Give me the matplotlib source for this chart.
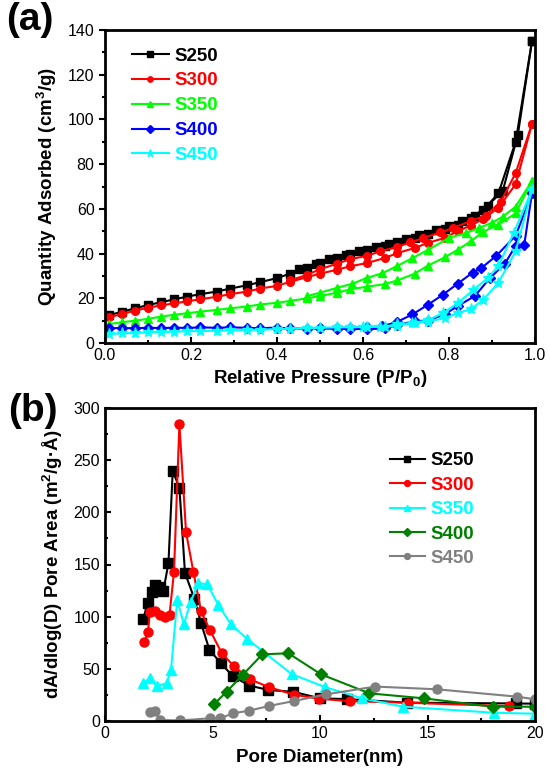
import matplotlib
matplotlib.use("Agg")
import matplotlib.pyplot as plt
from matplotlib.ticker import MultipleLocator

plt.rcParams["font.family"] = ["Liberation Sans", "DejaVu Sans"]
plt.rcParams["mathtext.fontset"] = "custom"
plt.rcParams["mathtext.rm"] = "Liberation Sans"
plt.rcParams["mathtext.bf"] = "Liberation Sans:bold"
plt.rcParams["mathtext.default"] = "bf"

# ---------------------------------------------------------------- (a) isotherms
samples = ["S250", "S300", "S350", "S400", "S450"]

s250_ads_p = [0.01, 0.04, 0.07, 0.10, 0.13, 0.16, 0.19, 0.22, 0.26, 0.29, 0.33, 0.36, 0.40, 0.43, 0.47,
              0.50, 0.54, 0.57, 0.61, 0.65, 0.68, 0.72, 0.75, 0.79, 0.82, 0.85, 0.88, 0.915, 0.955, 0.993]
s250_ads_q = [12.5, 14.0, 15.5, 17.0, 18.2, 19.5, 20.7, 21.8, 23.0, 24.3, 25.8, 27.2, 29.0, 31.0, 33.5,
              35.8, 38.0, 39.8, 41.5, 43.3, 45.0, 46.8, 48.8, 51.0, 53.0, 56.0, 59.5, 67.0, 90.0, 135.0]
s250_des_p = [0.993, 0.96, 0.925, 0.89, 0.86, 0.83, 0.80, 0.77, 0.73, 0.70, 0.66, 0.63, 0.59, 0.56, 0.52, 0.49, 0.45]
s250_des_q = [135.0, 93.0, 68.0, 61.5, 57.0, 54.5, 52.5, 50.5, 48.5, 46.5, 44.5, 42.8, 41.0, 39.5, 37.5, 35.5, 33.0]

s300_ads_p = s250_ads_p
s300_ads_q = [11.5, 13.0, 14.5, 15.8, 16.8, 17.7, 18.6, 19.5, 20.7, 21.8, 23.0, 24.3, 25.6, 27.3, 29.5,
              31.0, 32.8, 34.3, 35.8, 38.0, 40.2, 42.5, 44.7, 47.0, 50.0, 52.5, 55.5, 60.5, 71.0, 98.0]
s300_des_p = [0.993, 0.955, 0.92, 0.885, 0.85, 0.81, 0.78, 0.74, 0.71, 0.68, 0.64, 0.61, 0.57, 0.54, 0.50, 0.47, 0.43]
s300_des_q = [98.0, 76.0, 63.0, 57.0, 54.5, 51.5, 49.5, 47.0, 45.0, 43.0, 41.0, 39.0, 37.5, 35.5, 33.0, 30.5, 28.0]

s350_ads_p = s250_ads_p
s350_ads_q = [8.5, 9.3, 10.0, 10.8, 11.8, 12.6, 13.3, 14.0, 14.8, 15.5, 16.3, 17.2, 18.0, 18.8, 20.0,
              21.0, 22.5, 24.0, 25.2, 26.3, 28.0, 31.0, 34.5, 38.3, 41.7, 45.4, 49.8, 53.0, 58.0, 72.5]
s350_des_p = [0.993, 0.955, 0.925, 0.90, 0.87, 0.84, 0.80, 0.75, 0.715, 0.68, 0.645, 0.61, 0.575, 0.54, 0.50, 0.47]
s350_des_q = [72.5, 61.0, 56.5, 53.8, 51.5, 49.2, 47.0, 41.5, 38.0, 34.5, 31.2, 29.2, 26.5, 24.7, 22.5, 21.0]

s400_ads_p = [0.01, 0.04, 0.07, 0.10, 0.13, 0.16, 0.19, 0.22, 0.26, 0.29, 0.33, 0.36, 0.40, 0.43, 0.47,
              0.50, 0.54, 0.57, 0.61, 0.65, 0.68, 0.72, 0.75, 0.79, 0.82, 0.86, 0.895, 0.93, 0.955, 0.975, 0.993]
s400_ads_q = [6.5, 6.8, 6.5, 6.9, 6.6, 6.9, 6.7, 7.0, 6.8, 7.0, 6.8, 6.6, 6.9, 6.5, 6.4,
              6.6, 6.3, 6.3, 6.2, 6.5, 8.0, 9.8, 10.0, 12.8, 16.5, 21.0, 29.0, 35.5, 43.5, 44.0, 67.0]
s400_des_p = [0.993, 0.955, 0.91, 0.875, 0.855, 0.82, 0.785, 0.75, 0.715, 0.68, 0.645, 0.61, 0.57, 0.54, 0.50]
s400_des_q = [67.0, 48.0, 39.0, 33.5, 31.5, 26.5, 21.5, 17.0, 12.8, 9.5, 7.5, 7.0, 6.8, 6.8, 6.6]

s450_ads_p = s250_ads_p
s450_ads_q = [4.0, 4.3, 4.5, 4.8, 5.0, 5.0, 5.3, 5.3, 5.5, 5.6, 5.8, 6.0, 6.2, 6.4, 6.6,
              6.8, 7.0, 7.0, 7.2, 7.3, 8.3, 9.0, 9.6, 11.1, 13.4, 15.0, 19.4, 27.0, 41.0, 68.5]
s450_des_p = [0.993, 0.95, 0.915, 0.89, 0.855, 0.82, 0.785, 0.75, 0.715, 0.68, 0.64, 0.60]
s450_des_q = [68.5, 49.0, 34.5, 29.0, 23.5, 17.8, 13.2, 10.2, 8.8, 7.8, 7.3, 7.2]

iso_ads = [(s250_ads_p, s250_ads_q), (s300_ads_p, s300_ads_q), (s350_ads_p, s350_ads_q),
           (s400_ads_p, s400_ads_q), (s450_ads_p, s450_ads_q)]
iso_des = [(s250_des_p, s250_des_q), (s300_des_p, s300_des_q), (s350_des_p, s350_des_q),
           (s400_des_p, s400_des_q), (s450_des_p, s450_des_q)]

# ---------------------------------------------------------------- (b) pore size distribution
s250_d = [1.78, 1.98, 2.17, 2.33, 2.56, 2.71, 2.95, 3.15, 3.46, 3.72, 4.16, 4.47, 4.86, 5.4, 5.94,
          6.71, 7.6, 8.76, 10.0, 11.24, 14.03, 19.1, 20.0]
s250_a = [97.5, 113.4, 123.3, 130.3, 128.5, 124.5, 151.0, 239.6, 223.6, 142.0, 117.0, 93.6, 68.0, 55.3, 43.0,
          34.0, 29.7, 28.0, 21.7, 21.0, 17.6, 16.8, 16.6]

s300_d = [1.83, 2.0, 2.09, 2.33, 2.56, 2.79, 3.0, 3.21, 3.46, 3.77, 4.11, 4.47, 4.88, 5.43, 6.0,
          6.74, 7.64, 8.8, 9.97, 11.4, 14.1, 18.8]
s300_a = [76.0, 85.0, 104.8, 105.8, 101.6, 100.0, 101.6, 143.1, 284.4, 180.8, 143.0, 105.0, 87.2, 65.0, 52.4,
          40.0, 32.3, 25.2, 21.3, 19.0, 17.5, 14.2]

s350_d = [1.75, 2.09, 2.4, 2.87, 3.07, 3.36, 3.67, 3.98, 4.34, 4.76, 5.27, 5.86, 6.59, 8.68, 10.23,
          11.94, 13.88, 18.1, 20.0]
s350_a = [36.1, 40.9, 33.5, 36.1, 48.9, 116.0, 92.7, 113.8, 132.0, 131.0, 111.2, 92.7, 79.0, 45.0, 32.5,
          21.8, 13.7, 7.9, 7.0]

s400_d = [5.07, 5.66, 6.4, 7.32, 8.53, 10.05, 12.3, 14.84, 18.03, 20.0]
s400_a = [16.0, 28.1, 44.1, 63.9, 64.9, 44.7, 26.5, 21.7, 13.7, 13.7]

s450_d = [2.09, 2.33, 2.56, 3.5, 4.88, 5.35, 5.97, 6.7, 7.63, 8.8, 10.3, 12.56, 15.43, 19.18, 20.0]
s450_a = [8.3, 9.9, 1.0, 0.5, 2.6, 2.6, 7.4, 9.9, 14.4, 19.2, 25.6, 33.0, 30.4, 23.3, 20.8]

psd = [(s250_d, s250_a), (s300_d, s300_a), (s350_d, s350_a), (s400_d, s400_a), (s450_d, s450_a)]

colors_a = ["#000000", "#ff0000", "#00ff00", "#0000ff", "#00ffff"]
markers_a = ["s", "o", "^", "D", "*"]
colors_b = ["#000000", "#ff0000", "#00ffff", "#008000", "#808080"]
markers_b = ["s", "o", "^", "D", "o"]

LABEL_FS = 13.5
TICK_FS = 11.5
LEG_FS = 13.5


def style_axes(ax, ydir):
    for sp in ax.spines.values():
        sp.set_linewidth(2.0)
    ax.tick_params(axis="x", which="both", direction="in", top=False, labelsize=TICK_FS, width=1.5)
    ax.tick_params(axis="y", which="both", direction=ydir, right=False, labelsize=TICK_FS, width=1.5)
    ax.tick_params(which="major", length=4)
    ax.tick_params(which="minor", length=2.5)


fig = plt.figure(figsize=(5.5, 7.75), dpi=100)

# ---- panel (a)
ax1 = fig.add_axes([105 / 550, 1 - 343 / 775, 430 / 550, 313 / 775])
for name, (pa, qa), (pd_, qd), c, m in zip(samples, iso_ads, iso_des, colors_a, markers_a):
    ms = 8 if m == "*" else 5.5
    ax1.plot(pa, qa, color=c, marker=m, markersize=ms, linewidth=1.5, label=name)
    ax1.plot(pd_, qd, color=c, marker=m, markersize=ms, linewidth=1.5)
ax1.set_xlim(0, 1.0)
ax1.set_ylim(0, 140)
ax1.xaxis.set_major_locator(MultipleLocator(0.2))
ax1.xaxis.set_minor_locator(MultipleLocator(0.1))
ax1.yaxis.set_major_locator(MultipleLocator(20))
ax1.yaxis.set_minor_locator(MultipleLocator(10))
ax1.xaxis.set_major_formatter(lambda v, p: f"{v:.1f}")
style_axes(ax1, "out")
ax1.set_xlabel(r"Relative Pressure (P/P$_0$)", fontsize=LABEL_FS, fontweight="bold", labelpad=4)
ax1.set_ylabel(r"Quantity Adsorbed (cm$^3$/g)", fontsize=LABEL_FS, fontweight="bold", labelpad=6)
ax1.legend(loc="upper left", bbox_to_anchor=(0.062, 0.944), frameon=False, borderaxespad=0, borderpad=0,
           handlelength=2.0, handletextpad=0.3, labelspacing=0.41, markerscale=0.7,
           prop={"weight": "bold", "size": LEG_FS}, labelcolor="linecolor")
fig.text(6 / 550, 1 - 20 / 775, "(a)", fontsize=28, fontweight="bold", va="center", ha="left")

# ---- panel (b)
ax2 = fig.add_axes([105 / 550, 1 - 721 / 775, 430 / 550, 313 / 775])
for name, (d, a), c, m in zip(samples, psd, colors_b, markers_b):
    ax2.plot(d, a, color=c, marker=m, markersize=6.5, linewidth=1.5, label=name)
ax2.set_xlim(0, 20)
ax2.set_ylim(0, 300)
ax2.xaxis.set_major_locator(MultipleLocator(5))
ax2.xaxis.set_minor_locator(MultipleLocator(2.5))
ax2.yaxis.set_major_locator(MultipleLocator(50))
ax2.yaxis.set_minor_locator(MultipleLocator(25))
style_axes(ax2, "in")
ax2.set_xlabel("Pore Diameter(nm)", fontsize=LABEL_FS, fontweight="bold", labelpad=6)
ax2.set_ylabel(r"dA/dlog(D) Pore Area (m$^2$/g·Å)", fontsize=LABEL_FS, fontweight="bold", labelpad=6)
ax2.legend(loc="upper left", bbox_to_anchor=(0.662, 0.859), frameon=False, borderaxespad=0, borderpad=0,
           handlelength=1.9, handletextpad=0.3, labelspacing=0.39, markerscale=0.65,
           prop={"weight": "bold", "size": LEG_FS}, labelcolor="linecolor")
fig.text(8 / 550, 1 - 411 / 775, "(b)", fontsize=28, fontweight="bold", va="center", ha="left")

fig.savefig("out.png", dpi=100, facecolor="white")
